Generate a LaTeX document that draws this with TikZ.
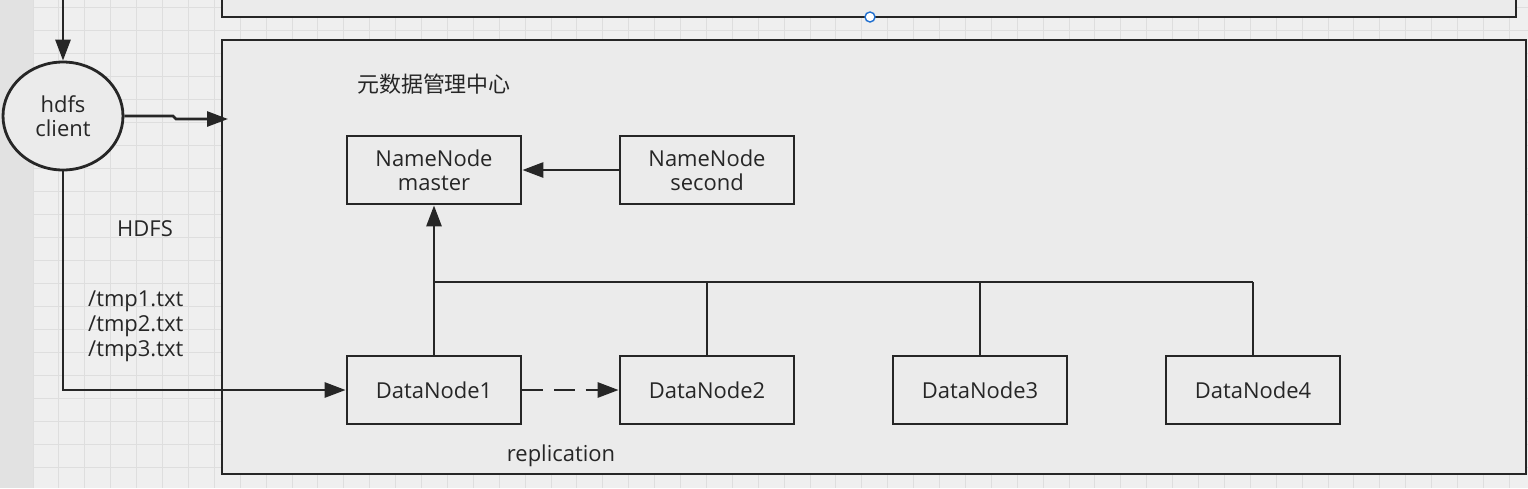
\documentclass[tikz,border=0pt]{standalone}
\usepackage{fontspec}
\setmainfont{Open Sans}
\newfontfamily\cjk{Noto Sans CJK SC}
\usetikzlibrary{arrows.meta,shapes.geometric}
\definecolor{paper}{HTML}{EBEBEB}
\definecolor{gridbg}{HTML}{EFEFEF}
\definecolor{gridln}{HTML}{DEDEDE}
\definecolor{strip}{HTML}{E2E2E2}
\definecolor{ink}{HTML}{262626}
\definecolor{handle}{HTML}{1F6FD0}
\begin{document}
\begin{tikzpicture}[x=0.02cm,y=-0.02cm,>={Stealth[length=0.42cm,width=0.3cm,inset=0pt]},
  every node/.style={font=\fontsize{12.5}{13.6}\selectfont,text=ink},
  box/.style={draw=ink,line width=1.6pt,fill=paper,minimum width=3.48cm,minimum height=1.36cm,align=center,inner sep=0pt},
  wire/.style={draw=ink,line width=1.6pt}]
	  \useasboundingbox (0,0) rectangle (1528,488);
	  % background and grid
	  \fill[gridbg] (0,0) rectangle (1528,488);
	  \foreach \gx in {0,...,58}
	    \draw[gridln,line width=0.5pt] (33+25.9*\gx,0) -- (33+25.9*\gx,488);
	  \foreach \gy in {0,...,21}
	    \draw[gridln,line width=0.5pt] (33,7+23*\gy) -- (1528,7+23*\gy);
	  \fill[strip] (0,0) rectangle (33,488);
	  \draw[wire,fill=paper] (222,-10) rectangle (1516,17);
	  \draw[handle,fill=white,line width=0.8pt] (870,17) circle (5);
	  \draw[wire,fill=paper] (222,40) rectangle (1526,474);
	  % client
	  \node[ellipse,draw=ink,line width=1.6pt,fill=paper,minimum width=2.4cm,minimum height=2.16cm,align=center,inner sep=0pt] (client) at (63,116) {hdfs\\client};
	  \coordinate (top) at (63,-5);
	  \coordinate (meta) at (228,119);
	  \draw[wire,->] (top) -- (client.north);
	  \draw[wire,->] (client.east) -- (173,116) -- (176,119) -- (meta);
	  \node (hdfs) at (145,229) {HDFS};
	  \node[align=left,anchor=west] (files) at (82,326) {/tmp1.txt\\[0.6pt]/tmp2.txt\\[0.6pt]/tmp3.txt};
	  % metadata center
	  \node (title) at (434,84) {\cjk 元数据管理中心};
	  \node[box] (nnm) at (434,170) {NameNode\\master};
	  \node[box] (nns) at (707,170) {NameNode\\second};
	  \node[box] (dn1) at (434,390) {DataNode1};
	  \node[box] (dn2) at (707,390) {DataNode2};
	  \node[box] (dn3) at (980,390) {DataNode3};
	  \node[box] (dn4) at (1253,390) {DataNode4};
	  \node (repl) at (561,456) {replication};
	  \coordinate (j1) at (434,282);
	  \coordinate (j4) at (1253,282);
	  \draw[wire,->] (nns) -- (nnm);
	  \draw[wire,->] (dn1) -- (nnm);
	  \draw[wire] (j1) -- (j4);
	  \draw[wire] (dn2.north) -- (dn2.north |- j1);
	  \draw[wire] (dn3.north) -- (dn3.north |- j1);
	  \draw[wire] (dn4.north) -- (j4);
	  \draw[wire,->,dash pattern=on 12pt off 6pt] (dn1) -- (dn2);
	  \draw[wire,->] (client.south) |- (dn1.west);
	\end{tikzpicture}
\end{document}
